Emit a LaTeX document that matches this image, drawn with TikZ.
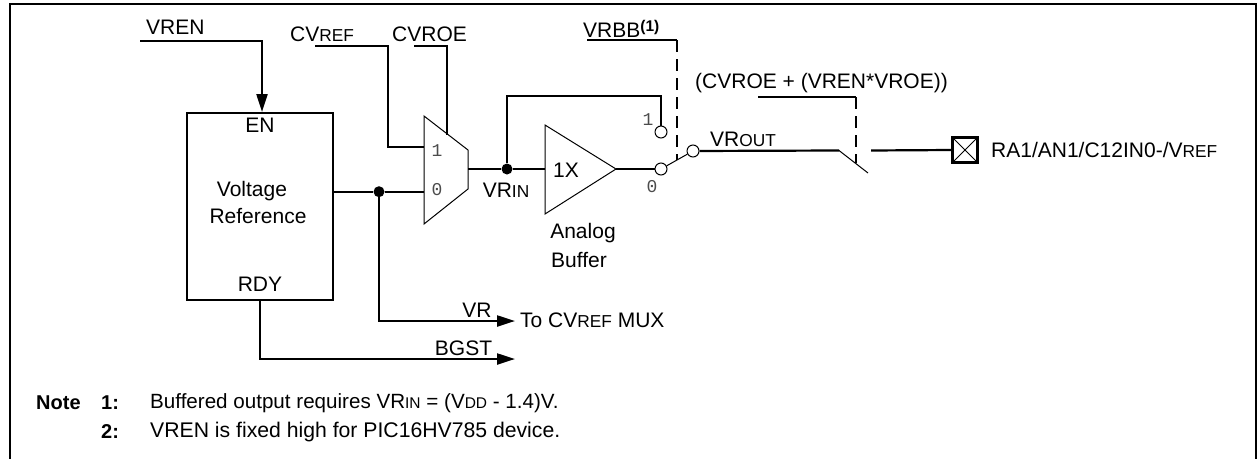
\documentclass[tikz,border=0pt]{standalone}
\usepackage{fontspec}
\setmainfont{Liberation Sans}
\setmonofont{Liberation Mono}
\usetikzlibrary{arrows.meta,calc}
\newcommand{\smc}[1]{{\fontsize{17.3}{17.3}\selectfont #1}}
\newcommand{\smd}[1]{{\fontsize{15.5}{15.5}\selectfont #1}}
\tikzset{
  x=1pt,y=-1pt,
  wire/.style={line width=2.2pt,line join=miter},
  thinw/.style={line width=1pt},
  dashw/.style={line width=2.2pt,dash pattern=on 12pt off 7pt},
  arr/.style={wire,-{Triangle[length=18pt,width=11pt]}},
  lab/.style={inner sep=0pt,font=\fontsize{21}{21}\selectfont},
  mono/.style={inner sep=0pt,font=\fontsize{18}{18}\selectfont\ttfamily,text=black!70},
  note/.style={inner sep=0pt,anchor=west,font=\fontsize{21}{21}\selectfont},
  noteb/.style={note,font=\fontsize{20}{20}\selectfont\bfseries},
  dotn/.style={circle,fill=black,inner sep=0pt,minimum size=11pt},
  ring/.style={circle,draw,fill=white,line width=1pt,inner sep=0pt,minimum size=12pt},
}
\begin{document}
\begin{tikzpicture}
\useasboundingbox (0,0) rectangle (1257,458);
% frame
\coordinate (fa) at (10,459); \coordinate (fb) at (10,4); \coordinate (fc) at (1256,4); \coordinate (fd) at (1256,459);
\draw[line width=2.5pt] (fa) -- (fb) -- (fc) -- (fd);
% voltage reference
\node[draw,wire,minimum width=146pt,minimum height=187pt,inner sep=0pt] (vr) at (260,206.5) {};
\node[lab] (en) at (260,125) {EN};
\node[lab] (vtxt) at (252,191) {Voltage};
\node[lab] (rtxt) at (258,216) {Reference};
\node[lab] (rdy) at (260,284) {RDY};
% VREN
\coordinate (vrenS) at (140,41);
\coordinate (vrenC) at (262,41);
\coordinate (vrenE) at (262,112);
\node[lab,anchor=west] (vren) at (146,27) {VREN};
\draw[arr] (vrenS) -- (vrenC) -- (vrenE);
% mux
\coordinate (m1) at (424,116); \coordinate (m2) at (468,150); \coordinate (m3) at (468,189); \coordinate (m4) at (424,224);
\draw[line width=1pt,fill=white] (m1) -- (m2) -- (m3) -- (m4) -- cycle;
\node[mono] (mux1) at (437,151) {1};
\node[mono] (mux0) at (437,190) {0};
\coordinate (muxIn1) at (424,146.7); \coordinate (muxIn0) at (424,191.7);
\coordinate (muxOut) at (468,169); \coordinate (muxSel) at (447,135);
% CVREF / CVROE
\node[lab,anchor=west] (cvref) at (290,34) {CV\smc{REF}};
\node[lab,anchor=west] (cvroe) at (392,34) {CVROE};
\coordinate (crS) at (315,46); \coordinate (crA) at (388,46); \coordinate (crB) at (388,146.7);
\draw[wire] (crS) -- (crA) -- (crB) -- (muxIn1);
\coordinate (coS) at (414,46); \coordinate (coA) at (447,46);
\draw[wire] (coS) -- (coA) -- (muxSel);
% vr out
\node[dotn] (j1) at (379,191.7) {};
\coordinate (vrOut) at (333,191.7);
\draw[wire] (vrOut) -- (j1) -- (muxIn0);
\coordinate (vrD) at (379,321); \coordinate (vrE) at (515,321);
\draw[arr] (j1) -- (vrD) -- (vrE);
\node[lab] (vrl) at (477,310) {VR};
\node[note] (tocv) at (520,320) {To CV\smc{REF} MUX};
% RDY
\coordinate (rdS) at (260,300); \coordinate (rdD) at (260,359); \coordinate (rdE) at (515,359);
\draw[arr] (rdS) -- (rdD) -- (rdE);
\node[lab] (bgst) at (463.5,348) {BGST};
% buffer
\node[dotn] (j2) at (507,169) {};
\coordinate (b1) at (545,125); \coordinate (b2) at (616,169); \coordinate (b3) at (545,214); \coordinate (bIn) at (545,169);
\draw[line width=1pt] (b1) -- (b2) -- (b3) -- cycle;
\draw[wire] (muxOut) -- (j2) -- (bIn);
\node[lab] (onex) at (566,170) {1X};
\node[lab] (analog) at (583,233) {Analog};
\node[lab,anchor=west] (buffer) at (551,260) {Buffer};
\node[lab] (vrin) at (506,190) {VR\smc{IN}};
% switch
\node[ring] (c0) at (661,169) {};
\node[ring] (c1) at (661,132) {};
\node[ring] (c2) at (693,151) {};
\draw[wire] (b2) -- (c0);
\coordinate (fbA) at (507,96); \coordinate (fbB) at (661,96);
\draw[wire] (j2) -- (fbA) -- (fbB) -- (c1);
\draw[thinw] (c0) -- (c2);
\node[mono] (s1) at (648,120) {1};
\node[mono] (s0) at (652,187) {0};
% VRBB
\node[lab,anchor=west] (vrbb) at (583,29) {VRBB\raisebox{6.5pt}{\fontsize{15.5}{15.5}\selectfont\bfseries(1)}};
\coordinate (bbS) at (587,40); \coordinate (bbC) at (677,40); \coordinate (bbE) at (677,160);
\draw[wire] (bbS) -- (bbC);
\draw[dashw] (bbC) -- (bbE);
% VROUT
\node[lab,anchor=west] (vrout) at (710,139) {VR\smc{OUT}};
\coordinate (swA) at (839,150.5); \coordinate (swB) at (868,173);
\draw[wire] (c2) -- (swA);
\draw[thinw] (swA) -- (swB);
% CVROE expr
\node[lab,anchor=west] (expr) at (695,83) {(CVROE + (VREN*VROE))};
\coordinate (exS) at (758,97); \coordinate (exC) at (856,97); \coordinate (exE) at (856,163);
\draw[wire] (exS) -- (exC);
\draw[dashw] (exC) -- (exE);
% pin
\coordinate (pnA) at (871,150.5);
\node[draw,wire,minimum size=25pt,inner sep=0pt] (pin) at (965,150) {};
\draw[thinw] (pin.north west) -- (pin.south east);
\draw[thinw] (pin.north east) -- (pin.south west);
\draw[wire] (pnA) -- (pin.west);
\node[lab,anchor=west] (ra) at (991,150) {RA1/AN1/C12IN0-/V\smc{REF}};
% notes
\node[noteb] (nn) at (36,403) {Note};
\node[noteb] (n1) at (101,403) {1:};
\node[note,font=\fontsize{20.6}{20.6}\selectfont] (t1) at (150,403) {Buffered output requires VR\smd{IN} = (V\smd{DD} - 1.4)V.};
\node[noteb] (n2) at (101,432) {2:};
\node[note,font=\fontsize{21.2}{21.2}\selectfont] (t2) at (150,432) {VREN is fixed high for PIC16HV785 device.};
\end{tikzpicture}
\end{document}
